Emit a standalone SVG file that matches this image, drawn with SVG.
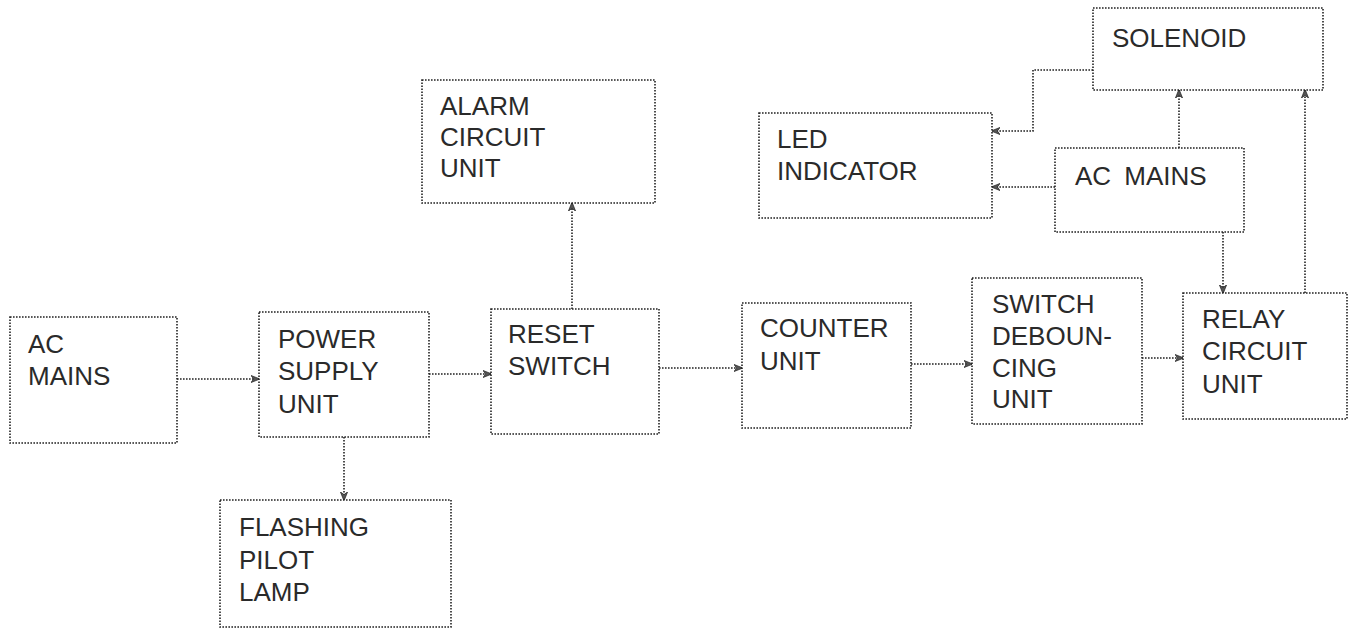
<svg xmlns="http://www.w3.org/2000/svg" width="1357" height="630" viewBox="0 0 1357 630">
<style>
.box{fill:#fff;stroke:#222;stroke-width:1.6;stroke-dasharray:1.6 1.4}
text{font-family:'Liberation Sans',Arial,sans-serif;font-size:26px;fill:#2a2a2a}
.con{fill:none;stroke:#222;stroke-width:1.6;stroke-dasharray:1.6 1.4}
</style>
<defs>
<marker id="ah" viewBox="0 0 10 10" refX="9" refY="5" markerWidth="9" markerHeight="9" markerUnits="userSpaceOnUse" orient="auto">
<path d="M0,1 L10,5 L0,9 L3,5 Z" fill="#555" stroke="#222" stroke-width="0.8"/>
</marker>
</defs>
<rect width="1357" height="630" fill="#fff"/>
<g id="connectors">
<path class="con" marker-end="url(#ah)" d="M177,379 H259"/>
<path class="con" marker-end="url(#ah)" d="M429,374 H491"/>
<path class="con" marker-end="url(#ah)" d="M344,437 V500"/>
<path class="con" marker-end="url(#ah)" d="M572,309 V203"/>
<path class="con" marker-end="url(#ah)" d="M659,368 H742"/>
<path class="con" marker-end="url(#ah)" d="M911,364 H972"/>
<path class="con" marker-end="url(#ah)" d="M1142,358 H1183"/>
<path class="con" marker-end="url(#ah)" d="M1223,232 V293"/>
<path class="con" marker-end="url(#ah)" d="M1305,293 V90"/>
<path class="con" marker-end="url(#ah)" d="M1179,148 V90"/>
<path class="con" marker-end="url(#ah)" d="M1055,187 H992"/>
<path class="con" marker-end="url(#ah)" d="M1093,70 H1033 V131 H992"/>
</g>
<g id="ac-mains-left">
<rect class="box" x="10" y="317" width="167" height="126"/>
<text x="28" y="353">AC</text>
<text x="28" y="385">MAINS</text>
</g>
<g id="power-supply">
<rect class="box" x="259" y="312" width="170" height="125"/>
<text x="278" y="348">POWER</text>
<text x="278" y="380">SUPPLY</text>
<text x="278" y="413">UNIT</text>
</g>
<g id="flashing-lamp">
<rect class="box" x="220" y="500" width="231" height="127"/>
<text x="239" y="536">FLASHING</text>
<text x="239" y="569">PILOT</text>
<text x="239" y="601">LAMP</text>
</g>
<g id="reset-switch">
<rect class="box" x="491" y="309" width="168" height="125"/>
<text x="508" y="343">RESET</text>
<text x="508" y="375">SWITCH</text>
</g>
<g id="alarm">
<rect class="box" x="422" y="80" width="233" height="123"/>
<text x="440" y="115">ALARM</text>
<text x="440" y="146">CIRCUIT</text>
<text x="440" y="177">UNIT</text>
</g>
<g id="counter">
<rect class="box" x="742" y="303" width="169" height="125"/>
<text x="760" y="337">COUNTER</text>
<text x="760" y="370">UNIT</text>
</g>
<g id="debouncing">
<rect class="box" x="972" y="278" width="170" height="146"/>
<text x="992" y="313">SWITCH</text>
<text x="992" y="345">DEBOUN-</text>
<text x="992" y="377">CING</text>
<text x="992" y="408">UNIT</text>
</g>
<g id="relay">
<rect class="box" x="1183" y="293" width="164" height="126"/>
<text x="1202" y="328">RELAY</text>
<text x="1202" y="360">CIRCUIT</text>
<text x="1202" y="393">UNIT</text>
</g>
<g id="solenoid">
<rect class="box" x="1093" y="8" width="230" height="82"/>
<text x="1112" y="47">SOLENOID</text>
</g>
<g id="led-indicator">
<rect class="box" x="759" y="113" width="233" height="105"/>
<text x="777" y="148">LED</text>
<text x="777" y="180">INDICATOR</text>
</g>
<g id="ac-mains-top">
<rect class="box" x="1055" y="148" width="189" height="84"/>
<text x="1075" y="185" word-spacing="6">AC MAINS</text>
</g>
</svg>
